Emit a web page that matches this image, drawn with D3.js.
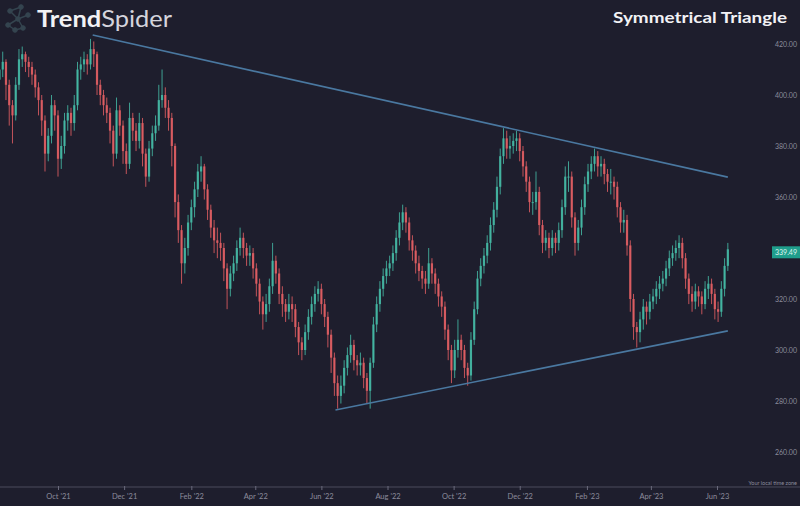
<!DOCTYPE html>
<html><head><meta charset="utf-8">
<script src="https://cdn.jsdelivr.net/npm/d3@7"></script>
<style>html,body{margin:0;padding:0;background:#1e1e2d;}svg{display:block;}</style>
</head><body>
<svg id="chart" width="800" height="506"></svg>
<script>
// ---- data ----
const startDate = "2021-08-08";   // first candle, one candle every 3 days
const stepDays = 3;
const closes = [410,413,404,396,392,404,414,416,413,411, 408,403,398,390,377,384,396,392,375,380,
 390,393,389,396,410,412,414,412,418,416, 404,400,396,393,386,377,394,388,378,373,
 391,386,382,389,377,368,379,385,388,398, 400,395,391,380,358,347,334,340,350,356,
 363,370,372,363,355,348,343,342,340,332, 324,330,334,340,344,340,337,338,332,326,
 319,314,318,325,335,330,322,318,315,318, 316,309,303,300,307,313,318,322,324,318,
 313,306,297,287,282,286,293,298,302,296, 294,295,289,284,295,310,318,324,329,332,
 334,338,344,350,354,350,343,339,334,331, 328,326,334,330,326,321,317,308,300,292,
 300,304,300,293,290,304,316,328,333,337, 342,349,355,364,376,383,379,380,382,383,
 378,372,366,358,358,362,349,342,344,340, 344,342,347,356,368,368,352,342,348,356,
 365,370,373,376,372,373,369,366,366,364, 356,350,351,341,320,309,307,312,317,315,
 319,321,324,326,328,332,336,338,340,342, 336,328,322,319,323,321,318,324,326,322,
 316,315,324,333,339.49];
const highs = [414,417,414,406,398,407,418,419,417,415, 413,410,405,400,392,387,400,398,394,384,
 393,396,395,400,413,415,417,416,422,421, 417,406,402,399,395,388,399,396,390,381,
 397,393,389,393,391,379,382,388,392,404, 410,403,398,393,381,361,349,344,353,359,
 366,373,376,373,365,357,351,348,346,342, 334,333,337,343,348,346,342,341,340,334,
 328,321,322,328,342,337,332,325,320,322, 321,318,311,305,310,316,321,325,327,326,
 320,315,308,299,290,290,296,301,306,304, 298,299,297,291,297,313,321,327,332,335,
 337,341,347,354,357,356,352,345,341,337, 333,331,340,336,332,328,323,319,310,302,
 304,312,306,302,295,307,319,331,336,340, 345,352,358,368,379,387,386,384,385,386,
 385,380,374,368,362,370,364,351,347,346, 347,346,350,359,372,374,370,354,351,359,
 368,373,376,379,378,376,375,371,371,368, 366,358,355,353,343,322,311,315,320,319,
 322,324,327,329,331,335,339,341,343,345, 344,338,330,325,326,325,323,327,329,328,
 324,319,327,336,342];
const lows = [402,407,398,388,381,390,402,411,409,407, 404,399,392,384,370,374,381,386,368,371,
 377,386,384,386,394,406,409,408,410,411, 400,396,392,389,381,372,375,384,373,369,
 371,382,378,379,372,364,366,376,382,386, 395,391,386,372,352,342,326,330,337,347,
 352,360,366,359,351,344,338,336,335,327, 316,321,327,331,337,336,333,333,328,321,
 314,308,311,315,322,326,318,313,311,312, 311,305,298,296,298,304,310,315,319,314,
 309,301,291,282,277,279,283,290,295,292, 290,290,285,279,277,293,307,315,321,326,
 329,331,335,341,347,346,339,335,330,327, 324,322,324,326,322,317,313,304,296,287,
 289,297,296,289,286,288,302,314,325,330, 334,339,346,352,361,373,375,375,377,378,
 374,368,362,354,353,355,345,338,339,336, 337,338,339,344,353,362,348,337,339,345,
 353,362,367,370,368,368,365,362,361,359, 352,346,346,337,315,304,301,303,308,310,
 312,316,318,320,323,325,329,333,335,336, 332,324,318,315,316,317,314,316,320,318,
 312,311,313,321,331];
const firstOpen = 406;
const upperTrend = [["2021-11-02", 423.5], ["2023-06-11", 367.8]];
const lowerTrend = [["2022-06-14", 276.5], ["2023-06-11", 307.5]];
const xTickDates = ["2021-10-01","2021-12-01","2022-02-01","2022-04-01","2022-06-01","2022-08-01",
 "2022-10-01","2022-12-01","2023-02-01","2023-04-01","2023-06-01"];
const yTickValues = [260,280,300,320,360,380,400,420];
const lastPrice = 339.49;
const title = "Symmetrical Triangle";

// ---- build ----
const parse = d3.utcParse("%Y-%m-%d");
const t0 = parse(startDate);
const candles = closes.map((c,i)=>({
  date: d3.utcDay.offset(t0, i*stepDays),
  open: i===0 ? firstOpen : closes[i-1],
  close: c, high: highs[i], low: lows[i]
}));

const svg = d3.select("#chart");
const W = 800, H = 506;
svg.append("rect").attr("width",W).attr("height",H).attr("fill","#1e1e2d");

const x = d3.scaleUtc().domain([parse("2021-10-01"), parse("2023-06-01")]).range([58,717]);
const y = d3.scaleLinear().domain([260,420]).range([452,44]);

const upC = "#45b8a4", dnC = "#e05e63";
const g = svg.append("g");
const cg = g.selectAll("g.c").data(candles).join("g").attr("class","c");
cg.append("line")
  .attr("x1",d=>x(d.date)).attr("x2",d=>x(d.date))
  .attr("y1",d=>y(d.high)).attr("y2",d=>y(d.low))
  .attr("stroke",d=>d.close>=d.open?upC:dnC).attr("stroke-width",1).attr("opacity",0.85);
cg.append("rect")
  .attr("x",d=>x(d.date)-1.1).attr("width",2.2)
  .attr("y",d=>y(Math.max(d.open,d.close)))
  .attr("height",d=>Math.max(1,Math.abs(y(d.open)-y(d.close))))
  .attr("fill",d=>d.close>=d.open?upC:dnC).attr("opacity",0.9);

// trendlines
const line = d3.line().x(d=>x(parse(d[0]))).y(d=>y(d[1]));
[upperTrend, lowerTrend].forEach(t=>{
  svg.append("path").attr("d",line(t)).attr("fill","none")
    .attr("stroke","#4a78a0").attr("stroke-width",1.6);
});

// x axis
const axisY = 487;
svg.append("line").attr("x1",0).attr("x2",W).attr("y1",axisY).attr("y2",axisY)
  .attr("stroke","#4a4a5c").attr("stroke-width",1);
const xAxis = d3.axisBottom(x).tickValues(xTickDates.map(parse))
  .tickFormat(d3.utcFormat("%b '%y")).tickSize(4).tickPadding(4);
const xa = svg.append("g").attr("transform",`translate(0,${axisY-1})`).call(xAxis);
xa.select(".domain").remove();
xa.selectAll(".tick line").attr("stroke","#6a6a7c");
xa.selectAll(".tick text").attr("fill","#8c8c9c").style("font-family","Lato, sans-serif").style("font-size","7.5px");

// y axis labels
const yAxis = d3.axisRight(y).tickValues(yTickValues).tickFormat(d3.format(".2f")).tickSize(0).tickPadding(0);
const ya = svg.append("g").attr("transform","translate(775,0)").call(yAxis);
ya.select(".domain").remove();
ya.selectAll(".tick text").attr("fill","#8c8c9c").style("font-family","Lato, sans-serif").style("font-size","7px");

// last price label
const ly = y(lastPrice) + 3;
svg.append("rect").attr("x",772).attr("y",ly-6).attr("width",28).attr("height",12).attr("fill","#1f9e8c");
svg.append("text").attr("x",775).attr("y",ly+2.5).text(lastPrice.toFixed(2))
  .attr("fill","#dff5f0").style("font-family","Lato, sans-serif").style("font-size","7px");

svg.append("text").attr("x",797).attr("y",485).attr("text-anchor","end").text("Your local time zone")
  .attr("fill","#8c8c9c").style("font-family","Lato, sans-serif").style("font-size","5.5px");

// logo
const icon = svg.append("g").attr("stroke","#34444f").attr("fill","#34444f");
const nodes = [[10,11],[21,7],[28,15],[18,19],[8,25],[23,28],[15,30]];
const links = [[0,3],[1,3],[2,3],[3,4],[3,5],[4,6],[5,6],[0,1]];
links.forEach(l=>icon.append("line").attr("x1",nodes[l[0]][0]).attr("y1",nodes[l[0]][1])
  .attr("x2",nodes[l[1]][0]).attr("y2",nodes[l[1]][1]).attr("stroke-width",1.5));
nodes.forEach(n=>icon.append("circle").attr("cx",n[0]).attr("cy",n[1]).attr("r",2.3));

const logo = svg.append("text").attr("x",37).attr("y",27)
  .attr("textLength",135).attr("lengthAdjust","spacingAndGlyphs")
  .style("font-family","Lato, sans-serif").style("font-size","23px");
logo.append("tspan").text("Trend").attr("fill","#f2f2f5").style("font-weight","700");
logo.append("tspan").text("Spider").attr("fill","#d4d4dc").style("font-weight","400");

svg.append("text").attr("x",613).attr("y",23).text(title)
  .attr("textLength",174).attr("lengthAdjust","spacingAndGlyphs")
  .attr("fill","#f2f2f5").style("font-family","Lato, sans-serif").style("font-size","16px").style("font-weight","700");
</script>
</body></html>
